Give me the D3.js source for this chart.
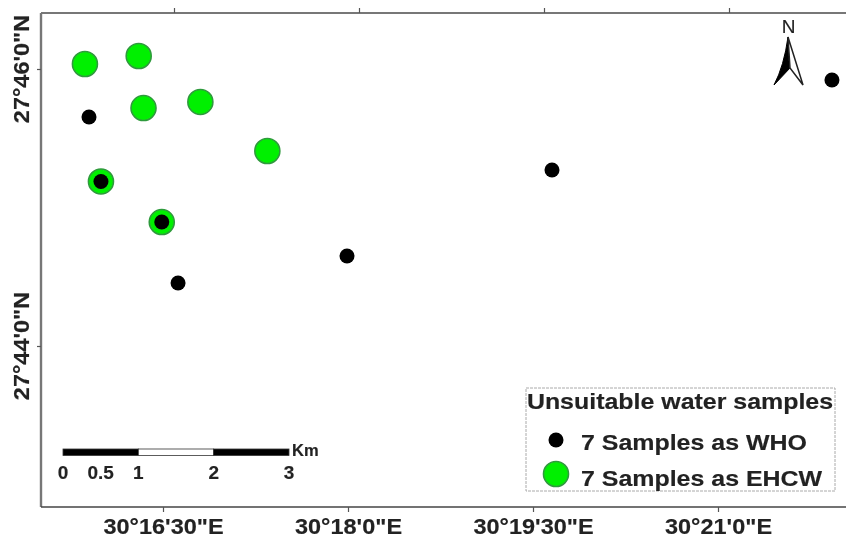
<!DOCTYPE html>
<html>
<head>
<meta charset="utf-8">
<script src="https://cdn.jsdelivr.net/npm/d3@7"></script>
<style>
html, body { margin: 0; padding: 0; background: #fff; overflow: hidden; }
text { font-family: "Liberation Sans", Arial, sans-serif; font-weight: bold; fill: #222; stroke: #222; stroke-width: 0.15px; }
</style>
</head>
<body>
<svg id="map" width="846" height="539"></svg>
<script>
const SVG_WIDTH = 846;
const SVG_HEIGHT = 539;
const FRAME = { left: 41, top: 13, right: 900, bottom: 507 };
const TOP_TICK_SHIFT = 11;
// the lettering in the source is wider than Liberation
const TICK_STRETCH = 1.092;
const LEGEND_STRETCH = 1.108;

// positions are arc minutes past 30 deg E and 27 deg N
const whoLon = [15.9, 15.997, 16.49, 16.622, 17.992, 19.654, 21.924];
const whoLat = [45.653, 45.188, 44.895, 44.455, 44.650, 45.271, 45.921];
const ehcwLon = [15.867, 16.303, 16.342, 16.803, 17.346, 15.997, 16.49];
const ehcwLat = [46.036, 46.094, 45.718, 45.762, 45.408, 45.188, 44.895];

const lonTicks = [16.5, 18, 19.5, 21];
const lonLabels = ["30°16'30\"E", "30°18'0\"E", "30°19'30\"E", "30°21'0\"E"];
const latTicks = [44, 46];
const latLabels = ["27°44'0\"N", "27°46'0\"N"];
const scaleKm = [0, 0.5, 1, 2, 3];
const scaleSegments = [[0, 1, "#000"], [1, 2, "#fff"], [2, 3, "#000"]];
const legendTitle = "Unsuitable water samples";
const legendLabels = ["7 Samples as WHO", "7 Samples as EHCW"];

const GREEN = "#06f006";
const GREEN_STROKE = "#2f9a3c";
const WHO_R = 7.5;
const EHCW_R = 12.5;

// linear is close enough at this map scale
const x = d3.scaleLinear().domain([16.5, 21]).range([163, 718]);
const y = d3.scaleLinear().domain([46, 44]).range([69, 346]);
const km = d3.scaleLinear().domain([0, 3]).range([63, 289]);

const svg = d3.select("#map");
const defs = svg.append("defs");
defs.append("filter").attr("id", "soft")
    .append("feGaussianBlur").attr("stdDeviation", 0.6);

const root = svg.append("g").attr("filter", "url(#soft)");
root.append("rect").attr("width", SVG_WIDTH).attr("height", SVG_HEIGHT).attr("fill", "#fff");

addFrame(root);
addPoints(root);
addScaleBar(root);
addNorthArrow(root);
addLegend(root);

function widen(selection, stretch) {
    selection.each(function () {
        const len = this.getComputedTextLength();
        d3.select(this)
            .attr("textLength", len * stretch)
            .attr("lengthAdjust", "spacingAndGlyphs");
    });
}

function addFrame(g) {
    const labelFor = (ticks, labels) => d => labels[ticks.indexOf(d)];

    g.append("line").attr("x1", FRAME.left).attr("x2", FRAME.right)
        .attr("y1", FRAME.top).attr("y2", FRAME.top)
        .attr("stroke", "#777").attr("stroke-width", 2.2);
    g.append("line").attr("x1", FRAME.left).attr("x2", FRAME.left)
        .attr("y1", FRAME.top).attr("y2", FRAME.bottom)
        .attr("stroke", "#777").attr("stroke-width", 2.4);
    g.append("line").attr("x1", FRAME.left).attr("x2", FRAME.right)
        .attr("y1", FRAME.bottom).attr("y2", FRAME.bottom)
        .attr("stroke", "#444").attr("stroke-width", 1.4);

    const bottom = g.append("g")
        .attr("transform", `translate(0,${FRAME.bottom})`)
        .call(d3.axisBottom(x).tickValues(lonTicks).tickSize(5).tickPadding(7)
            .tickFormat(labelFor(lonTicks, lonLabels)));
    bottom.select(".domain").remove();
    bottom.attr("font-family", null).attr("font-size", null);
    bottom.selectAll("text").style("font-size", "21.5px").call(widen, TICK_STRETCH);

    const top = g.append("g")
        .attr("transform", `translate(${TOP_TICK_SHIFT},${FRAME.top})`)
        .call(d3.axisTop(x).tickValues(lonTicks).tickSize(5).tickFormat(""));
    top.select(".domain").remove();

    const left = g.append("g")
        .attr("transform", `translate(${FRAME.left},0)`)
        .call(d3.axisLeft(y).tickValues(latTicks).tickSize(4).tickFormat(""));
    left.select(".domain").remove();

    g.selectAll(".tick line").attr("stroke", "#555").attr("stroke-width", 1.2);

    g.selectAll(".lat-label")
        .data(latTicks)
        .enter()
        .append("text")
        .attr("class", "lat-label")
        .attr("transform", d => `translate(28.5,${y(d)}) rotate(-90)`)
        .attr("text-anchor", "middle")
        .style("font-size", "21.5px")
        .text(labelFor(latTicks, latLabels))
        .call(widen, TICK_STRETCH);
}

function addPoints(g) {
    g.selectAll(".ehcw")
        .data(d3.zip(ehcwLon, ehcwLat))
        .enter()
        .append("circle")
        .attr("class", "ehcw")
        .attr("cx", d => x(d[0]))
        .attr("cy", d => y(d[1]))
        .attr("r", EHCW_R)
        .attr("fill", GREEN)
        .attr("stroke", GREEN_STROKE)
        .attr("stroke-width", 1.6);

    g.selectAll(".who")
        .data(d3.zip(whoLon, whoLat))
        .enter()
        .append("circle")
        .attr("class", "who")
        .attr("cx", d => x(d[0]))
        .attr("cy", d => y(d[1]))
        .attr("r", WHO_R)
        .attr("fill", "#000");
}

function addScaleBar(g) {
    g.selectAll(".km-seg")
        .data(scaleSegments)
        .enter()
        .append("rect")
        .attr("class", "km-seg")
        .attr("x", d => km(d[0]))
        .attr("y", 449)
        .attr("width", d => km(d[1]) - km(d[0]))
        .attr("height", 6.5)
        .attr("fill", d => d[2])
        .attr("stroke", "#333")
        .attr("stroke-width", 0.8);

    g.selectAll(".km-label")
        .data(scaleKm)
        .enter()
        .append("text")
        .attr("class", "km-label")
        .attr("x", d => km(d))
        .attr("y", 479)
        .attr("text-anchor", "middle")
        .style("font-size", "19px")
        .text(d => d);

    g.append("text")
        .attr("x", 292)
        .attr("y", 456)
        .style("font-size", "16.5px")
        .text("Km");
}

function addNorthArrow(g) {
    g.append("text")
        .attr("x", 788.5)
        .attr("y", 33)
        .attr("text-anchor", "middle")
        .style("font-size", "19px")
        .style("font-weight", "normal")
        .text("N");
    g.append("path")
        .attr("d", "M788,37 Q784,66 774,85 L790,68 Z")
        .attr("fill", "#000")
        .attr("stroke", "#000");
    g.append("path")
        .attr("d", "M788,37 L803,85 L790,68 Z")
        .attr("fill", "#fff")
        .attr("stroke", "#222")
        .attr("stroke-width", 1.5);
}

function addLegend(g) {
    g.append("rect")
        .attr("x", 526)
        .attr("y", 388)
        .attr("width", 309)
        .attr("height", 103)
        .attr("fill", "#fff")
        .attr("stroke", "#aaa")
        .attr("stroke-width", 1)
        .attr("stroke-dasharray", "3,1");

    g.append("text")
        .attr("x", 680)
        .attr("y", 409)
        .attr("text-anchor", "middle")
        .style("font-size", "22.5px")
        .text(legendTitle)
        .call(widen, LEGEND_STRETCH);

    g.append("circle").attr("cx", 556).attr("cy", 440).attr("r", WHO_R).attr("fill", "#000");
    g.append("circle").attr("cx", 556).attr("cy", 474).attr("r", EHCW_R)
        .attr("fill", GREEN).attr("stroke", GREEN_STROKE).attr("stroke-width", 1.6);

    g.selectAll(".legend-label")
        .data(legendLabels)
        .enter()
        .append("text")
        .attr("class", "legend-label")
        .attr("x", 581)
        .attr("y", (d, i) => 449.5 + i * 36)
        .style("font-size", "22.5px")
        .text(d => d)
        .call(widen, LEGEND_STRETCH);
}
</script>
</body>
</html>
